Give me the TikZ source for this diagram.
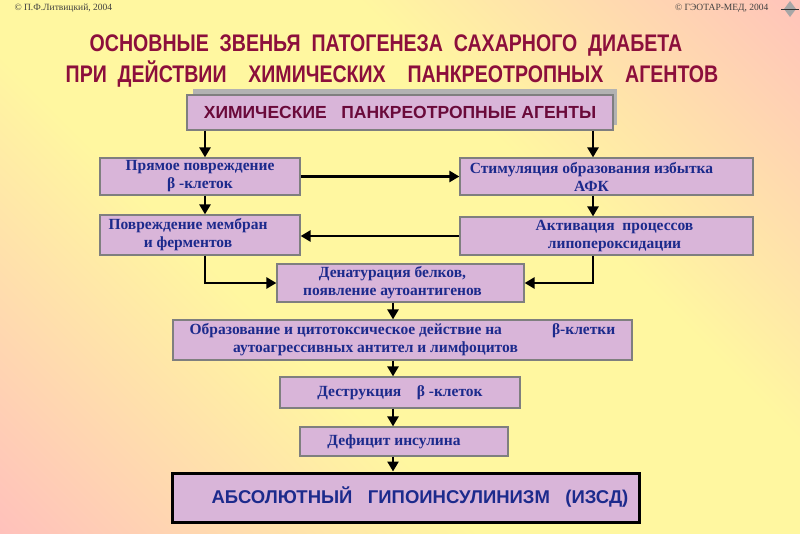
\documentclass[tikz,border=0pt]{standalone}
\usepackage{fontspec}
\setmainfont{Liberation Serif}
\newfontfamily\headfont{Liberation Sans}
\newfontfamily\narrowfont[FakeStretch=0.815]{Liberation Sans}
\usetikzlibrary{positioning,calc,arrows.meta}
\definecolor{bgpink}{HTML}{FFC0BC}
\definecolor{bgyellow}{HTML}{FFF7A0}
\definecolor{boxfill}{HTML}{D9B5D9}
\definecolor{boxline}{HTML}{7F7F7F}
\definecolor{navytext}{HTML}{1C2A8C}
\definecolor{titlered}{HTML}{8C0F3C}
\definecolor{agentred}{HTML}{6A0A3A}
\pgfdeclareverticalshading{bgshade}{100bp}{color(0bp)=(bgpink); color(14bp)=(bgpink); color(40bp)=(bgyellow); color(62bp)=(bgyellow); color(87bp)=(bgpink); color(100bp)=(bgpink)}

\begin{document}
\begin{tikzpicture}[x=1pt,y=-1pt,
  box/.style={draw=boxline, fill=boxfill, line width=1.2pt, inner sep=0pt, align=center,
    font=\bfseries\fontsize{15.5}{18}\selectfont\color{navytext}},
  flow/.style={line width=2.8pt, -{Triangle[width=11pt,length=10pt]}},
]
\useasboundingbox (0,0) rectangle (800,533);
\shade[shading=bgshade, shading angle=-45] (0,0) rectangle (800,533);

% header lines
\node[anchor=west, font=\fontsize{9.5}{10}\selectfont, text=black!75] (authl) at (11,8) {© П.Ф.Литвицкий, 2004};
\node[anchor=east, font=\fontsize{9.5}{10}\selectfont, text=black!75] (authr) at (772,8) {© ГЭОТАР-МЕД, 2004};
\fill[gray!70] (790,1) -- (796,9) -- (790,17) -- (784,9) -- cycle;
\draw[gray!40!black, line width=0.6pt] (781,9) -- (799,9);

\node[font=\narrowfont\bfseries\fontsize{24}{26}\selectfont, text=titlered] (title1) at (386,46)
  {ОСНОВНЫЕ\ \ ЗВЕНЬЯ\ \ ПАТОГЕНЕЗА\ \ САХАРНОГО\ \ ДИАБЕТА};
\node[font=\narrowfont\bfseries\fontsize{24}{26}\selectfont, text=titlered] (title2) at (392,74)
  {ПРИ\ \ ДЕЙСТВИИ\ \ \ \ ХИМИЧЕСКИХ\ \ \ \ ПАНКРЕОТРОПНЫХ\ \ \ \ АГЕНТОВ};

% boxes
\fill[gray!60] (193,89) rectangle (617,125);
\node[box, minimum width=426pt, minimum height=35pt, font=\headfont\bfseries\fontsize{17.5}{19}\selectfont\color{agentred}] (agents) at (400,112.5)
  {ХИМИЧЕСКИЕ\ \ \ ПАНКРЕОТРОПНЫЕ АГЕНТЫ};
\node[box, minimum width=200pt, minimum height=37pt] (direct) at (200,176.5)
  {Прямое повреждение\\β -клеток};
\node[box, minimum width=200pt, minimum height=40pt] (membr) at (200,235)
  {Повреждение мембран\hspace*{24pt}\\и ферментов\hspace*{24pt}};
\node[box, minimum width=293pt, minimum height=37pt] (afk) at (606.5,176.5)
  {Стимуляция образования избытка\hspace*{30pt}\\АФК\hspace*{30pt}};
\node[box, minimum width=293pt, minimum height=38pt] (lpo) at (606.5,236)
  {\hspace*{16pt}Активация\ \ процессов\\\hspace*{16pt}липопероксидации};
\node[box, minimum width=247pt, minimum height=38pt] (denat) at (400.5,283)
  {Денатурация белков,\hspace*{16pt}\\появление аутоантигенов\hspace*{16pt}};
\node[box, minimum width=459pt, minimum height=40pt] (autoagr) at (402.5,340)
  {Образование и цитотоксическое действие на\hspace{50pt}β-клетки\\аутоагрессивных антител и лимфоцитов\hspace*{54pt}};
\node[box, minimum width=240pt, minimum height=31pt] (destr) at (400,392.5)
  {Деструкция\ \ \ \ β -клеток};
\node[box, minimum width=208pt, minimum height=29pt] (deficit) at (404,441.5)
  {Дефицит инсулина\hspace*{20pt}};
\node[box, draw=black, line width=3pt, minimum width=467pt, minimum height=49pt,
  font=\headfont\bfseries\fontsize{18.5}{20}\selectfont\color{navytext}] (hypo) at (406,497.5)
  {\hspace*{28pt}АБСОЛЮТНЫЙ\ \ \ ГИПОИНСУЛИНИЗМ\ \ \ (ИЗСД)};

% connectors
\coordinate (lx) at (205,0);
\coordinate (rx) at (593,0);
\coordinate (mx) at (393,0);
\draw[flow] (agents.south -| lx) -- (direct.north -| lx);
\draw[flow] (agents.south -| rx) -- (afk.north -| rx);
\draw[flow] (direct.east) -- (afk.west |- direct.east);
\draw[flow] (direct.south -| lx) -- (membr.north -| lx);
\draw[flow] (afk.south -| rx) -- (lpo.north -| rx);
\draw[flow] (lpo.west) -- (membr.east |- lpo.west);
\draw[flow] (membr.south -| lx) |- (denat.west);
\draw[flow] (lpo.south -| rx) |- (denat.east);
\draw[flow] (denat.south -| mx) -- (autoagr.north -| mx);
\draw[flow] (autoagr.south -| mx) -- (destr.north -| mx);
\draw[flow] (destr.south -| mx) -- (deficit.north -| mx);
\draw[flow] (deficit.south -| mx) -- (hypo.north -| mx);
\end{tikzpicture}
\end{document}
